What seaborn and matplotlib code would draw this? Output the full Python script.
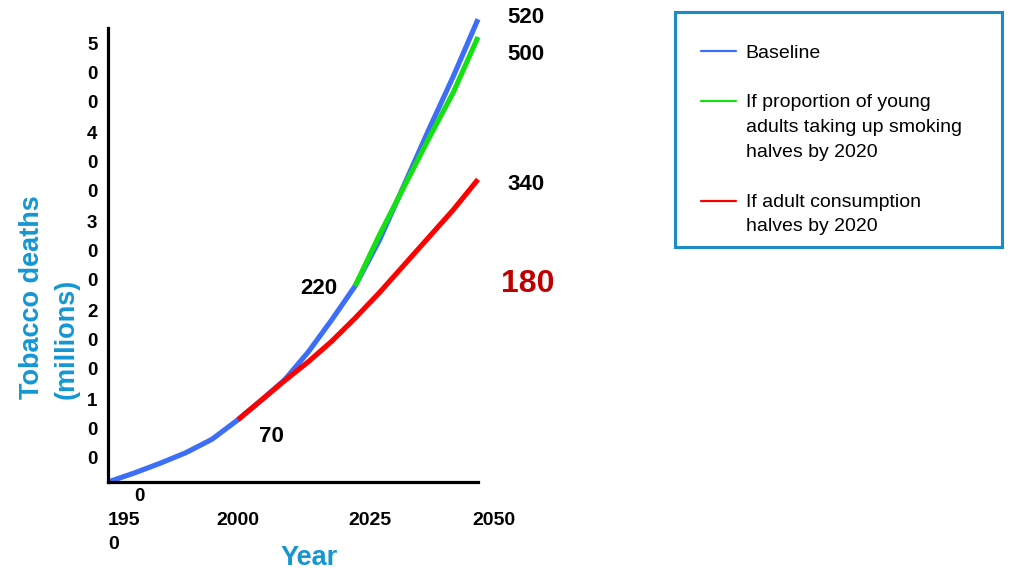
import numpy as np
import pandas as pd
import matplotlib
matplotlib.use("Agg")
import matplotlib.pyplot as plt
from matplotlib.lines import Line2D
from matplotlib.patches import Rectangle
from matplotlib.transforms import ScaledTranslation
from matplotlib.legend_handler import HandlerLine2D
import seaborn as sns

# Projected tobacco deaths (millions), 1950-2050
baseline_years = [1950, 1960, 1970, 1980, 1990, 2000, 2005, 2010, 2015, 2020,
                  2025, 2030, 2035, 2040, 2045, 2050]
baseline_deaths = [0, 10, 21, 33, 48, 70, 92, 115, 146, 182,
                   220, 272, 334, 396, 456, 520]

youth_years = [2025, 2030, 2035, 2040, 2045, 2050]
youth_deaths = [220, 278, 332, 386, 438, 500]

adult_years = [2000, 2005, 2010, 2015, 2020, 2025, 2030, 2035, 2040, 2045, 2050]
adult_deaths = [70, 92, 114, 135, 158, 184, 213, 244, 275, 306, 340]

scenario_names = [
    "Baseline",
    "If proportion of young\nadults taking up smoking\nhalves by 2020",
    "If adult consumption\nhalves by 2020",
]
scenario_colors = ["#3d6ef7", "#14e014", "#ff0000"]

x_tick_years = [1950, 2000, 2025, 2050]
x_tick_labels = ["195\n0", "2000", "2025", "2050"]
y_tick_values = [0, 100, 200, 300, 400, 500]

AXIS_BLUE = "#1596d3"
FRAME_BLUE = "#1b8cc7"

# Long-form table for seaborn
df = pd.concat([
    pd.DataFrame({"year": baseline_years, "deaths": baseline_deaths, "scenario": scenario_names[0]}),
    pd.DataFrame({"year": youth_years, "deaths": youth_deaths, "scenario": scenario_names[1]}),
    pd.DataFrame({"year": adult_years, "deaths": adult_deaths, "scenario": scenario_names[2]}),
], ignore_index=True)

sns.set_theme(style="white")
plt.rcParams["font.family"] = ["Liberation Sans", "DejaVu Sans"]

W, H = 1012, 569
fig = plt.figure(figsize=(W / 100, H / 100), dpi=100)
ax = fig.add_axes([108 / W, 1 - 482 / H, 370 / W, 471.7 / H])

# The time axis is stretched piecewise: later periods get more room
KNOT_YEARS = np.array([1950.0, 2000.0, 2025.0, 2050.0])
KNOT_POS = np.array([0.0, 130.0, 247.0, 370.0])


def _piecewise(x, xp, fp):
    arr = np.asarray(x, dtype=float)
    flat = np.atleast_1d(arr).ravel()
    out = np.interp(flat, xp, fp)
    lo = flat < xp[0]
    hi = flat > xp[-1]
    out[lo] = fp[0] + (flat[lo] - xp[0]) * (fp[1] - fp[0]) / (xp[1] - xp[0])
    out[hi] = fp[-1] + (flat[hi] - xp[-1]) * (fp[-1] - fp[-2]) / (xp[-1] - xp[-2])
    return out.reshape(arr.shape) if arr.ndim else out[0]


ax.set_xscale("function", functions=(lambda v: _piecewise(v, KNOT_YEARS, KNOT_POS),
                                     lambda v: _piecewise(v, KNOT_POS, KNOT_YEARS)))

sns.lineplot(data=df, x="year", y="deaths", hue="scenario", hue_order=scenario_names,
             palette=scenario_colors, estimator=None, sort=False, linewidth=3.7,
             solid_capstyle="butt", solid_joinstyle="round", legend=False,
             clip_on=False, ax=ax)

ax.set_xlim(1950, 2050)
ax.set_ylim(0, 530)

for side in ("top", "right"):
    ax.spines[side].set_visible(False)
for side in ("left", "bottom"):
    ax.spines[side].set_color("black")
    ax.spines[side].set_linewidth(2.3)
ax.spines["left"].set_bounds(0, 510)

# x ticks
ax.set_xticks(x_tick_years)
ax.set_xticklabels(x_tick_labels, fontsize=14, fontweight="bold", color="black",
                   linespacing=1.57)
ax.tick_params(axis="x", length=0, pad=21.5)
x_shift_px = [0, 0, 15, 16]
for lab, dx in zip(ax.get_xticklabels(), x_shift_px):
    lab.set_transform(lab.get_transform() + ScaledTranslation(dx / 100, 0, fig.dpi_scale_trans))
ax.get_xticklabels()[0].set_ha("left")
ax.get_xticklabels()[0].set_multialignment("left")

# y ticks: digits stacked vertically
ax.set_yticks(y_tick_values)
ax.set_yticklabels(["\n".join(str(v)) for v in y_tick_values], fontsize=13.5,
                   fontweight="bold", color="black", linespacing=1.93)
ax.tick_params(axis="y", length=0, pad=7)
for lab in ax.get_yticklabels():
    lab.set_va("top")
    lab.set_ha("center")
    lab.set_transform(lab.get_transform() + ScaledTranslation(-6 / 100, 0, fig.dpi_scale_trans))
zero_lab = ax.get_yticklabels()[0]
zero_lab.set_transform(zero_lab.get_transform() + ScaledTranslation(47 / 100, -6 / 100, fig.dpi_scale_trans))

# axis titles
ax.set_xlabel("Year", fontsize=19.5, fontweight="bold", color=AXIS_BLUE)
ax.xaxis.set_label_coords((309 - 108) / 370, (482 - 558) / 471.7)
ax.xaxis.label.set_va("center")
ax.set_ylabel("Tobacco deaths\n(millions)", fontsize=19.5, fontweight="bold",
              color=AXIS_BLUE, multialignment="left", linespacing=1.43)
ax.yaxis.set_label_coords((49.5 - 108) / 370, (482 - 297.5) / 471.7)
ax.yaxis.label.set_va("center")
ax.yaxis.label.set_ha("center")

# value callouts
lbl = dict(fontsize=16, fontweight="bold", color="black", ha="center", va="center",
           textcoords="offset points", annotation_clip=False)
ax.annotate(f"{baseline_deaths[-1]}", xy=(baseline_years[-1], baseline_deaths[-1]), xytext=(34.6, 1.4), **lbl)
ax.annotate(f"{youth_deaths[-1]}", xy=(youth_years[-1], youth_deaths[-1]), xytext=(34.6, -12.5), **lbl)
ax.annotate(f"{adult_deaths[-1]}", xy=(adult_years[-1], adult_deaths[-1]), xytext=(34.6, -4), **lbl)
ax.annotate(f"{youth_deaths[0]}", xy=(youth_years[0], youth_deaths[0]), xytext=(-26, -2), **lbl)
ax.annotate(f"{adult_deaths[0]}", xy=(adult_years[0], adult_deaths[0]), xytext=(23.8, -12.2), **lbl)
averted = baseline_deaths[-1] - adult_deaths[-1]
ax.annotate(f"{averted}", xy=(adult_years[-1], adult_deaths[-1]), xytext=(36, -75),
            fontsize=23, fontweight="bold", color="#c00000", ha="center", va="center",
            textcoords="offset points", annotation_clip=False)


# legend: handle sits level with the first line of each label
class FirstLineHandler(HandlerLine2D):
    def __init__(self, n_lines, step, **kw):
        super().__init__(**kw)
        self.n_lines = n_lines
        self.step = step

    def create_artists(self, legend, orig_handle, xdescent, ydescent, width, height,
                       fontsize, trans):
        artists = super().create_artists(legend, orig_handle, xdescent, ydescent,
                                         width, height, fontsize, trans)
        shift = (self.n_lines - 1) / 2 * self.step * fontsize
        for a in artists:
            a.set_ydata(np.asarray(a.get_ydata(), dtype=float) + shift)
        return artists


handles = [Line2D([], [], color=c, lw=1.6) for c in scenario_colors]
hmap = {h: FirstLineHandler(name.count("\n") + 1, 1.36) for h, name in zip(handles, scenario_names)}
leg = fig.legend(handles, scenario_names, handler_map=hmap, loc="upper left",
                 bbox_to_anchor=(701 / W, 1 - 44 / H), frameon=False, borderpad=0,
                 borderaxespad=0, fontsize=14, handlelength=1.8, handletextpad=0.5,
                 labelspacing=1.68, labelcolor="black")
for t in leg.get_texts():
    t.set_linespacing(1.6)

fig.patches.append(Rectangle((675 / W, 1 - 247 / H), 327 / W, 235 / H, transform=fig.transFigure,
                             fill=False, edgecolor=FRAME_BLUE, linewidth=2.2))

fig.savefig("out.png", dpi=100)
